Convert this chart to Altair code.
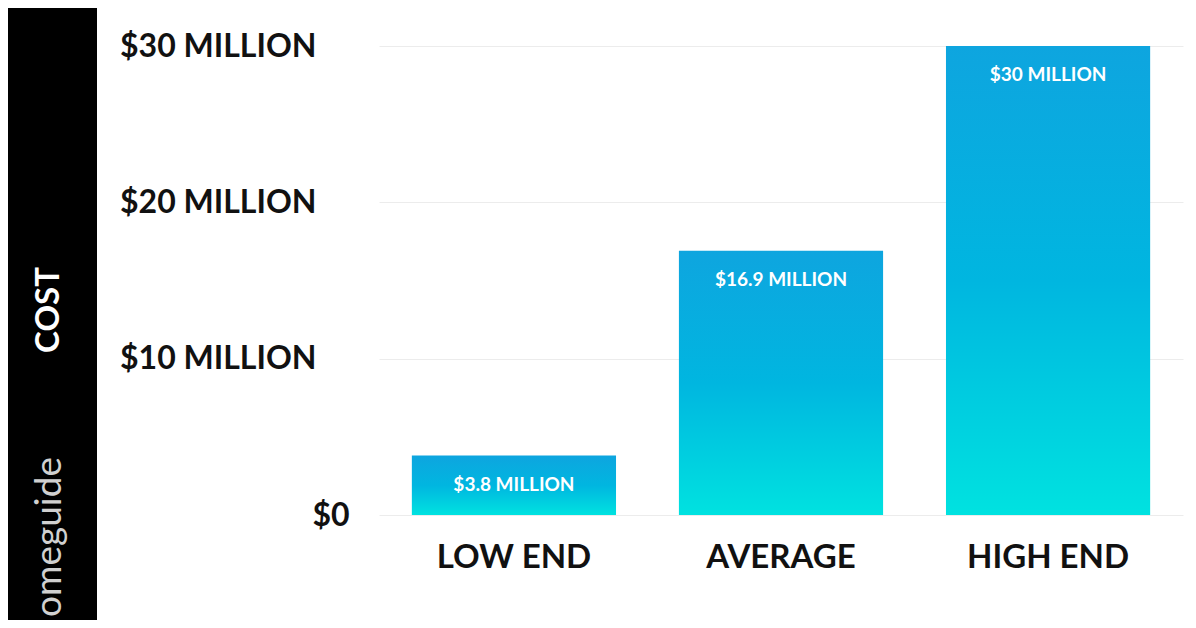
import altair as alt
import pandas as pd

categories = ["LOW END", "AVERAGE", "HIGH END"]
costs = [3.8, 16.9, 30]
bar_labels = ["$3.8 MILLION", "$16.9 MILLION", "$30 MILLION"]
y_ticks = [0, 10, 20, 30]
side_title = ["COST"]
watermark = ["omeguide"]

df = pd.DataFrame({"category": categories, "cost": costs, "label": bar_labels})
one = pd.DataFrame({"k": [0]})

W, H = 804, 469
PAD = {"left": 371, "top": 38, "right": 5, "bottom": 105}

x_enc = alt.X(
    "category:N",
    sort=categories,
    scale=alt.Scale(paddingInner=0.2355, paddingOuter=0.123),
    axis=alt.Axis(
        title=None, labelAngle=0, labelFont="Lato", labelFontWeight="bold",
        labelFontSize=33, labelColor="#111111", labelPadding=42,
        labelBaseline="middle", labelLimit=0, ticks=False, tickSize=0, domain=False,
    ),
)
y_enc = alt.Y(
    "cost:Q",
    scale=alt.Scale(domain=[0, 30], nice=False),
    axis=alt.Axis(
        title=None, values=y_ticks,
        labelExpr="datum.value == 0 ? '$0' : '$' + datum.value + ' MILLION'",
        labelFont="Lato", labelFontWeight="bold", labelFontSize=32,
        labelColor="#111111", labelAlign="right", labelBaseline="middle",
        labelLimit=0,
        labelPadding={"condition": {"test": "datum.value == 0", "value": 30}, "value": 63},
        ticks=False, tickSize=0, domain=False,
        grid=True, gridColor="#ececec", gridWidth=1,
    ),
)

grad = alt.Gradient(
    gradient="linear",
    stops=[alt.GradientStop(color="#0ea5df", offset=0),
           alt.GradientStop(color="#00b6e0", offset=0.5),
           alt.GradientStop(color="#00e2e0", offset=1)],
    x1=0, x2=0, y1=0, y2=1,
)

bars = alt.Chart(df).mark_bar(color=grad).encode(x=x_enc, y=y_enc)

labels = alt.Chart(df).mark_text(
    baseline="middle", dy=29, color="white", font="Lato",
    fontWeight="bold", fontSize=19,
).encode(x=alt.X("category:N", sort=categories), y="cost:Q", text="label:N")

strip = alt.Chart(one).mark_rect(color="black").encode(
    x=alt.value(-PAD["left"]), x2=alt.value(-282),
    y=alt.value(-PAD["top"]), y2=alt.value(H + PAD["bottom"]),
)

cost_txt = alt.Chart(pd.DataFrame({"t": side_title})).mark_text(
    angle=270, align="center", baseline="middle", color="white",
    font="Lato", fontWeight="bold", fontSize=33,
).encode(x=alt.value(-330), y=alt.value(264), text="t:N")

wm_txt = alt.Chart(pd.DataFrame({"t": watermark})).mark_text(
    angle=270, align="left", baseline="middle", color="#d0d0d0",
    font="Lato", fontWeight="normal", fontSize=37,
).encode(x=alt.value(-329), y=alt.value(571), text="t:N")

chart = alt.layer(strip, bars, labels, cost_txt, wm_txt).properties(
    width=W, height=H,
    autosize=alt.AutoSizeParams(type="none"),
    padding=PAD,
    background="white",
).configure_view(strokeWidth=0)

chart.save("out.html", embed_options={"renderer": "svg", "actions": False})
